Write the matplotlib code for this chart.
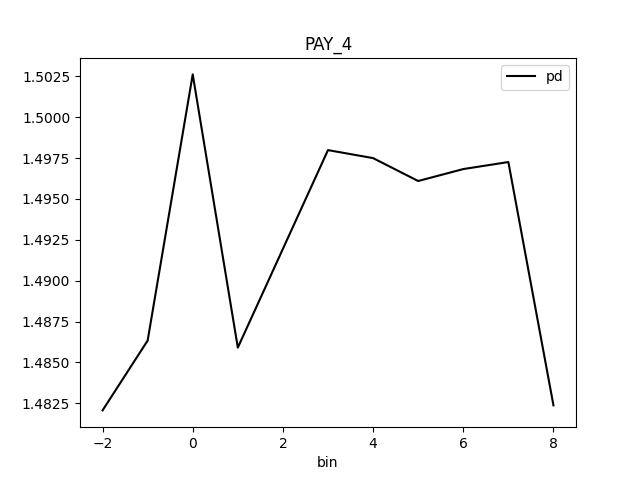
import matplotlib
matplotlib.use('Agg')
import matplotlib.pyplot as plt
from matplotlib.ticker import MultipleLocator, FormatStrFormatter
import pandas as pd

bins = [-2, -1, 0, 1, 2, 3, 4, 5, 6, 7, 8]
pd_values = [1.48207, 1.48634, 1.50262, 1.48591, 1.49195, 1.49799,
             1.49750, 1.49610, 1.49683, 1.49726, 1.48238]

df = pd.DataFrame({'bin': bins, 'pd': pd_values}).set_index('bin')

fig, ax = plt.subplots(figsize=(6.4, 4.8), dpi=100)
df.plot(ax=ax, color='black')
ax.set_title('PAY_4')
ax.set_xlabel('bin')
ax.yaxis.set_major_locator(MultipleLocator(0.0025))
ax.yaxis.set_major_formatter(FormatStrFormatter('%.4f'))
fig.savefig('out.png')
